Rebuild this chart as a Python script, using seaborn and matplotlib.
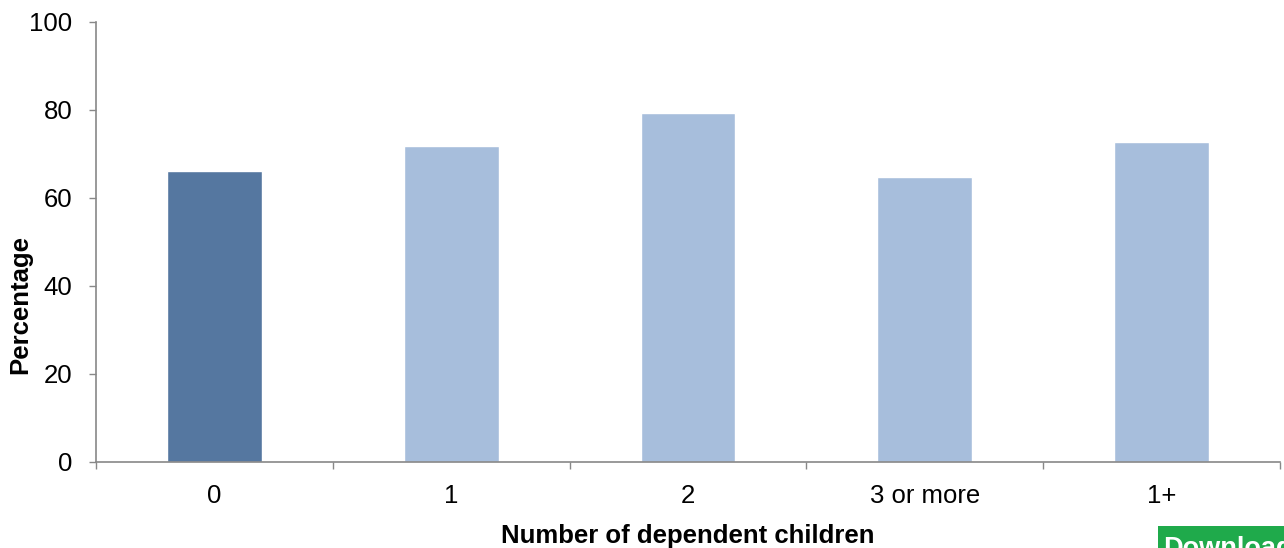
import numpy as np
import pandas as pd
import matplotlib
matplotlib.use("Agg")
import matplotlib.pyplot as plt
import seaborn as sns
from matplotlib.patches import Rectangle

# Data
categories = ['0', '1', '2', '3 or more', '1+']
percentages = [66.1, 71.7, 79.2, 64.8, 72.8]
bar_colors = ['#5577a0', '#a7bedc', '#a7bedc', '#a7bedc', '#a7bedc']

df = pd.DataFrame({'Children': categories, 'Percentage': percentages})

sns.set_theme(style="white")
plt.rcParams['font.family'] = ['Liberation Sans', 'DejaVu Sans']

FS = 18.5
W, H = 1284, 548
fig = plt.figure(figsize=(W / 100, H / 100), dpi=100)
ax = fig.add_axes([0.0748, 0.157, 0.922, 0.803])

sns.barplot(x='Children', y='Percentage', hue='Children', data=df,
            palette=bar_colors, width=0.4, legend=False, ax=ax, saturation=1)

ax.set_ylim(0, 100)
ax.set_xlim(-0.5, len(categories) - 0.5)
ax.set_yticks([0, 20, 40, 60, 80, 100])

# Category boundary ticks on x, like the original chart
ax.set_xticks(np.arange(-0.5, len(categories), 1.0), minor=True)
ax.tick_params(axis='x', which='both', bottom=True)
ax.tick_params(axis='x', which='major', length=0, pad=16, labelsize=FS, labelcolor='black')
ax.tick_params(axis='x', which='minor', length=5, width=1, color='#888888', direction='out')
ax.tick_params(axis='y', which='major', left=True, length=5, width=1, color='#888888',
               direction='out', labelsize=FS, labelcolor='black', pad=12)

for side in ['top', 'right']:
    ax.spines[side].set_visible(False)
for side in ['left', 'bottom']:
    ax.spines[side].set_color('#888888')
    ax.spines[side].set_linewidth(1.2)

ax.set_xlabel('Number of dependent children', fontsize=FS, fontweight='bold',
              labelpad=11.5, color='black')
ax.set_ylabel('Percentage', fontsize=FS, fontweight='bold', color='black')
ax.yaxis.set_label_coords(-0.054, 0.357)

# Download button, cut off at the bottom right edge as in the original
fig.patches.append(Rectangle((1158 / W, 0), (W - 1158) / W, (H - 526) / H,
                             transform=fig.transFigure, facecolor='#1faa4b',
                             edgecolor='none', zorder=5))
fig.text(1163 / W, 1 - 556 / H, 'Download', fontsize=19.5, fontweight='bold',
         color='white', ha='left', va='baseline', zorder=6)

fig.savefig('out.png', dpi=100)
